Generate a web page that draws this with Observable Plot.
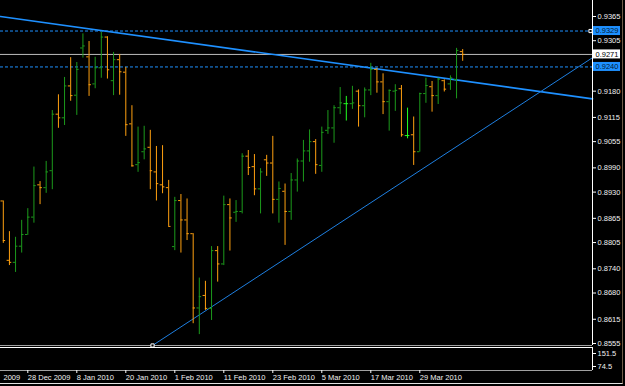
<!DOCTYPE html>
<html>
<head>
<meta charset="utf-8">
<script src="https://cdn.jsdelivr.net/npm/d3@7"></script>
<script src="https://cdn.jsdelivr.net/npm/@observablehq/plot@0.6"></script>
<style>
  html, body { margin: 0; padding: 0; background: #000; }
  #wrap { position: relative; width: 625px; height: 386px; overflow: hidden; background: #000; }
  #main { position: absolute; left: 0; top: 0; }
  #sub { position: absolute; left: 0; top: 347px; }
  #edge { position: absolute; left: 0; top: 0; width: 622px; height: 383px;
          border-right: 1px solid #6e5c48; border-bottom: 1px solid #e0e0e0; pointer-events: none; }
</style>
</head>
<body>
<div id="wrap"><div id="main"></div><div id="sub"></div><div id="edge"></div></div>
<script>
// ---- data (daily bars, index 0..75) ----
const opens = [0.8908,0.8761,0.8756,0.8796,0.8825,0.8868,0.8948,0.8941,0.8983,0.9123,
  0.9114,0.9193,0.9170,0.9287,0.9265,0.9198,0.9238,0.9314,0.9206,0.9258,
  0.9227,0.9099,0.8998,0.9030,0.9041,0.8980,0.8948,0.8941,0.8795,0.8909,
  0.8861,0.8827,0.8643,0.8674,0.8642,0.8785,0.8752,0.8899,0.8880,0.8882,
  0.9019,0.8993,0.8938,0.9010,0.9002,0.8912,0.8932,0.8882,0.8960,0.9007,
  0.9032,0.9055,0.8996,0.9083,0.9089,0.9139,0.9149,0.9149,0.9180,0.9144,
  0.9183,0.9234,0.9203,0.9154,0.9180,0.9186,0.9070,0.9072,0.9030,0.9174,
  0.9191,0.9169,0.9206,0.9198,0.9209,0.9278];
const highs = [0.8908,0.8832,0.8818,0.8860,0.8889,0.8992,0.8956,0.9006,0.9132,0.9171,
  0.9214,0.9263,0.9251,0.9322,0.9303,0.9264,0.9326,0.9315,0.9276,0.9271,
  0.9239,0.9144,0.9091,0.9093,0.9083,0.9043,0.9045,0.8959,0.8917,0.8924,
  0.8913,0.8827,0.8717,0.8709,0.8795,0.8795,0.8920,0.8913,0.8909,0.9025,
  0.9033,0.9023,0.8988,0.9021,0.9068,0.8955,0.8950,0.8976,0.9012,0.9058,
  0.9084,0.9060,0.9091,0.9132,0.9144,0.9189,0.9167,0.9192,0.9183,0.9188,
  0.9249,0.9237,0.9223,0.9183,0.9196,0.9194,0.9138,0.9116,0.9175,0.9212,
  0.9204,0.9212,0.9208,0.9218,0.9286,0.9283];
const lows = [0.8803,0.8748,0.8731,0.8779,0.8823,0.8853,0.8899,0.8927,0.8936,0.9088,
  0.9095,0.9155,0.9120,0.9262,0.9167,0.9186,0.9212,0.9210,0.9169,0.9170,
  0.9068,0.8992,0.8979,0.9010,0.8936,0.8908,0.8926,0.8845,0.8785,0.8779,
  0.8810,0.8604,0.8577,0.8637,0.8612,0.8707,0.8748,0.8784,0.8855,0.8876,
  0.8971,0.8921,0.8876,0.8969,0.8876,0.8853,0.8798,0.8860,0.8930,0.8955,
  0.9004,0.8974,0.8979,0.9073,0.9051,0.9122,0.9106,0.9135,0.9091,0.9114,
  0.9169,0.9175,0.9122,0.9081,0.9130,0.9066,0.9062,0.8996,0.9029,0.9150,
  0.9128,0.9147,0.9178,0.9182,0.9161,0.9254];
const closes = [0.8810,0.8756,0.8796,0.8825,0.8868,0.8946,0.8941,0.8980,0.9123,0.9114,
  0.9193,0.9169,0.9234,0.9292,0.9196,0.9238,0.9314,0.9233,0.9258,0.9228,
  0.9097,0.8995,0.9003,0.9037,0.8983,0.8951,0.8943,0.8845,0.8909,0.8861,
  0.8827,0.8643,0.8671,0.8642,0.8785,0.8752,0.8899,0.8866,0.8882,0.9019,
  0.8991,0.8938,0.8980,0.9002,0.8912,0.8939,0.8882,0.8960,0.9007,0.9032,
  0.9055,0.8998,0.9078,0.9089,0.9139,0.9151,0.9149,0.9151,0.9144,0.9183,
  0.9234,0.9203,0.9154,0.9182,0.9182,0.9072,0.9070,0.9030,0.9174,0.9194,
  0.9169,0.9210,0.9185,0.9213,0.9281,0.9271];

// x-axis date ticks (bar index -> label)
const dateTickIdx = [4, 12, 20, 28, 36, 44, 52, 60, 68];
const dateTickLabels = ["28 Dec 2009","8 Jan 2010","20 Jan 2010","1 Feb 2010",
  "11 Feb 2010","23 Feb 2010","5 Mar 2010","17 Mar 2010","29 Mar 2010"];
const leftEdgeLabel = "2009";
// price axis ticks
const priceTicks = [0.9365,0.9305,0.9180,0.9115,0.9055,0.8990,0.8930,0.8865,0.8805,0.8740,0.8680,0.8615,0.8555];
// indicator sub-window ticks
const subTicks = [151.5, 74.5];
const subDomain = [50.8, 187.0];

// drawn objects
const downTrend = [{i: -0.46, p: 0.9365}, {i: 96.2, p: 0.9161}];
const upTrend = [{i: 24.36, p: 0.8550}, {i: 96.2, p: 0.9263}];
const levelLines = [0.9329, 0.9240];
const bidPrice = 0.9271;
const anchors = [{i: 24.36, p: 0.8550}, {i: 95.87, p: 0.9329}];

// ---- build ----
const bars = opens.map((o, k) => ({
  i: k, open: o, high: highs[k], low: lows[k], close: closes[k],
  dir: closes[k] > o ? "up" : closes[k] < o ? "down" : "doji"
}));
const xDomain = [-0.457, 96.196];
const yDomain = [0.8550, 0.94046];
const labelMap = new Map(dateTickIdx.map((d, k) => [d, dateTickLabels[k]]));
const priceLabels = [
  ...levelLines.map(p => ({p, kind: "level"})),
  {p: bidPrice, kind: "bid"}
];
const font = "'Liberation Sans', Arial, sans-serif";
const style = {background: "#000", color: "#f0f0f0", fontFamily: font, fontSize: "7.5px", overflow: "visible"};
const colorScale = {domain: ["up", "down", "doji"], range: ["#1c9a1c", "#ffa010", "#22ff22"]};
const T = 0.38;

const main = Plot.plot({
  width: 625, height: 347,
  marginLeft: 0, marginRight: 33, marginTop: 0, marginBottom: 2,
  style,
  x: {domain: xDomain, axis: null},
  y: {domain: yDomain},
  color: colorScale,
  marks: [
    Plot.ruleY(levelLines, {stroke: "#1e90ff", strokeDasharray: "3,2"}),
    Plot.ruleY([bidPrice], {stroke: "#bdbdbd"}),
    Plot.line(downTrend, {x: "i", y: "p", stroke: "#1e90ff", strokeWidth: 1.7}),
    Plot.line(upTrend, {x: "i", y: "p", stroke: "#1e7fe0", strokeWidth: 1}),
    Plot.ruleX(bars, {x: "i", y1: "low", y2: "high", stroke: "dir"}),
    Plot.ruleY(bars, {y: "open", x1: d => d.i - T, x2: "i", stroke: "dir"}),
    Plot.ruleY(bars, {y: "close", x1: "i", x2: d => d.i + T, stroke: "dir"}),
    Plot.ruleY([yDomain[0]], {stroke: "#a0a0a0"}),
    Plot.ruleX([xDomain[1]], {stroke: "#ffffff"}),
    Plot.dot(anchors, {x: "i", y: "p", symbol: "square", r: 1.8, stroke: "#fff", fill: "#000", strokeWidth: 1}),
    Plot.axisY({anchor: "right", ticks: priceTicks, tickFormat: d => d.toFixed(4), tickSize: 3, tickPadding: 2,
      label: null, stroke: "#fff", fill: "#f0f0f0", fontSize: 7.5}),
    Plot.rect(priceLabels, {x1: () => xDomain[1], x2: () => xDomain[1], y1: "p", y2: "p",
      insetLeft: 1, insetRight: -28, insetTop: -4.5, insetBottom: -4.5,
      fill: d => d.kind === "bid" ? "#ffffff" : "#1e90ff"}),
    Plot.text(priceLabels, {x: () => xDomain[1], y: "p", text: d => d.p.toFixed(4), dx: 3,
      textAnchor: "start", fill: d => d.kind === "bid" ? "#000" : "#001a33", fontSize: 7.5})
  ]
});
document.getElementById("main").appendChild(main);

const sub = Plot.plot({
  width: 625, height: 39,
  marginLeft: 0, marginRight: 33, marginTop: 0, marginBottom: 16,
  style,
  x: {domain: xDomain},
  y: {domain: subDomain, axis: null},
  marks: [
    Plot.ruleY([subDomain[1]], {stroke: "#ffffff"}),
    Plot.ruleY([subDomain[0]], {stroke: "#a0a0a0"}),
    Plot.ruleX([xDomain[1]], {stroke: "#ffffff"}),
    Plot.axisY({anchor: "right", ticks: subTicks, tickFormat: d => String(d), tickSize: 3, tickPadding: 2,
      label: null, stroke: "#fff", fill: "#f0f0f0", fontSize: 7.5}),
    Plot.axisX({anchor: "bottom", ticks: dateTickIdx, tickFormat: d => labelMap.get(d),
      tickSize: 3, tickPadding: 1.5, textAnchor: "start", label: null,
      stroke: "#fff", fill: "#f0f0f0", fontSize: 7.5}),
    Plot.text([leftEdgeLabel], {frameAnchor: "bottom-left", dx: 3, dy: 4.5, lineAnchor: "top",
      textAnchor: "start", fill: "#f0f0f0", fontSize: 7.5})
  ]
});
document.getElementById("sub").appendChild(sub);
</script>
</body>
</html>
